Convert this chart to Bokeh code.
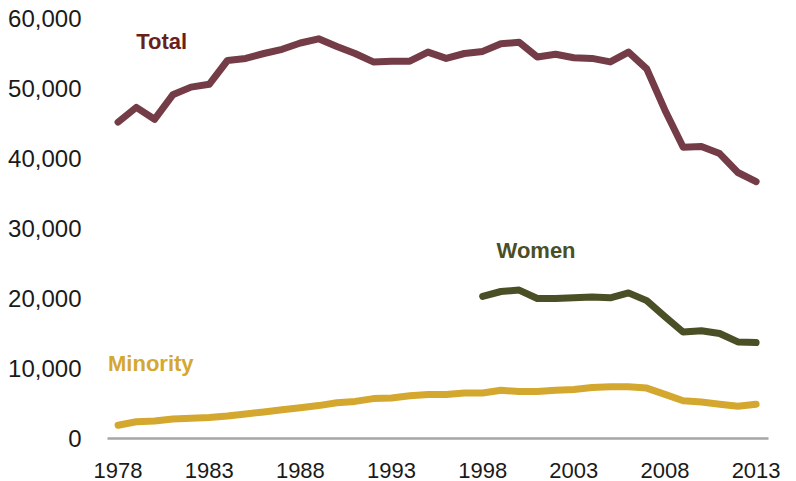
from bokeh.plotting import figure
from bokeh.models import FixedTicker, NumeralTickFormatter, Range1d, Label
from bokeh.embed import file_html
from bokeh.resources import INLINE

years = list(range(1978, 2014))
total = [45200, 47300, 45600, 49100, 50200, 50600, 54000, 54300, 55000, 55600,
         56500, 57100, 56000, 55000, 53800, 53900, 53900, 55200, 54300, 55000,
         55300, 56400, 56600, 54500, 54900, 54400, 54300, 53800, 55200, 52800,
         46900, 41600, 41700, 40700, 38000, 36700]
women_years = list(range(1998, 2014))
women = [20300, 21000, 21200, 20000, 20000, 20100, 20200, 20100, 20800, 19700,
         17400, 15200, 15400, 15000, 13800, 13700]
minority = [1900, 2400, 2500, 2800, 2900, 3000, 3200, 3500, 3800, 4100,
            4400, 4700, 5100, 5300, 5700, 5800, 6100, 6300, 6300, 6500,
            6500, 6900, 6700, 6700, 6900, 7000, 7300, 7400, 7400, 7200,
            6300, 5400, 5200, 4900, 4600, 4900]
x_ticks = [1978, 1983, 1988, 1993, 1998, 2003, 2008, 2013]
y_ticks = [0, 10000, 20000, 30000, 40000, 50000, 60000]

series_labels = ["Total", "Women", "Minority"]

C_TOTAL = "#733C47"
C_TOTAL_TXT = "#6B1F1A"
C_WOMEN = "#4A4F26"
C_MIN = "#D4A82F"

p = figure(frame_width=661, frame_height=420,
           x_range=Range1d(1977.42, 2013.68), y_range=Range1d(0, 60000),
           min_border_left=107, min_border_right=28, min_border_top=18, min_border_bottom=43,
           output_backend="svg", toolbar_location=None)
p.outline_line_color = None
p.grid.visible = False
p.background_fill_color = "white"

p.line(years, total, line_color=C_TOTAL, line_width=7, line_cap="round", line_join="round")
p.line(women_years, women, line_color=C_WOMEN, line_width=7, line_cap="round", line_join="round")
p.line(years, minority, line_color=C_MIN, line_width=7, line_cap="round", line_join="round")

xa = p.xaxis[0]
xa.ticker = FixedTicker(ticks=x_ticks)
xa.axis_line_color = "#A6A6A6"
xa.axis_line_width = 2.5
xa.major_tick_line_color = None
xa.minor_tick_line_color = None
xa.major_label_standoff = 18
xa.major_label_text_font = "Liberation Sans"
xa.major_label_text_font_size = "22px"
xa.major_label_text_color = "#1a1a1a"

ya = p.yaxis[0]
ya.ticker = FixedTicker(ticks=y_ticks)
ya.formatter = NumeralTickFormatter(format="0,0")
ya.axis_line_color = None
ya.major_tick_line_color = None
ya.minor_tick_line_color = None
ya.major_label_standoff = 20
ya.major_label_text_font = "Liberation Sans"
ya.major_label_text_font_size = "24px"
ya.major_label_text_color = "#1a1a1a"

lab_font = "Liberation Sans"
for txt, xx, yy, col in [(series_labels[0], 1979.0, 56650, C_TOTAL_TXT),
                         (series_labels[1], 1998.76, 26900, C_WOMEN),
                         (series_labels[2], 1977.45, 10780, C_MIN)]:
    p.add_layout(Label(x=xx, y=yy, text=txt, text_color=col, text_font=lab_font,
                       text_font_style="bold", text_font_size="22px",
                       text_baseline="alphabetic", text_align="left"))

open("out.html", "w").write(file_html(p, INLINE))
